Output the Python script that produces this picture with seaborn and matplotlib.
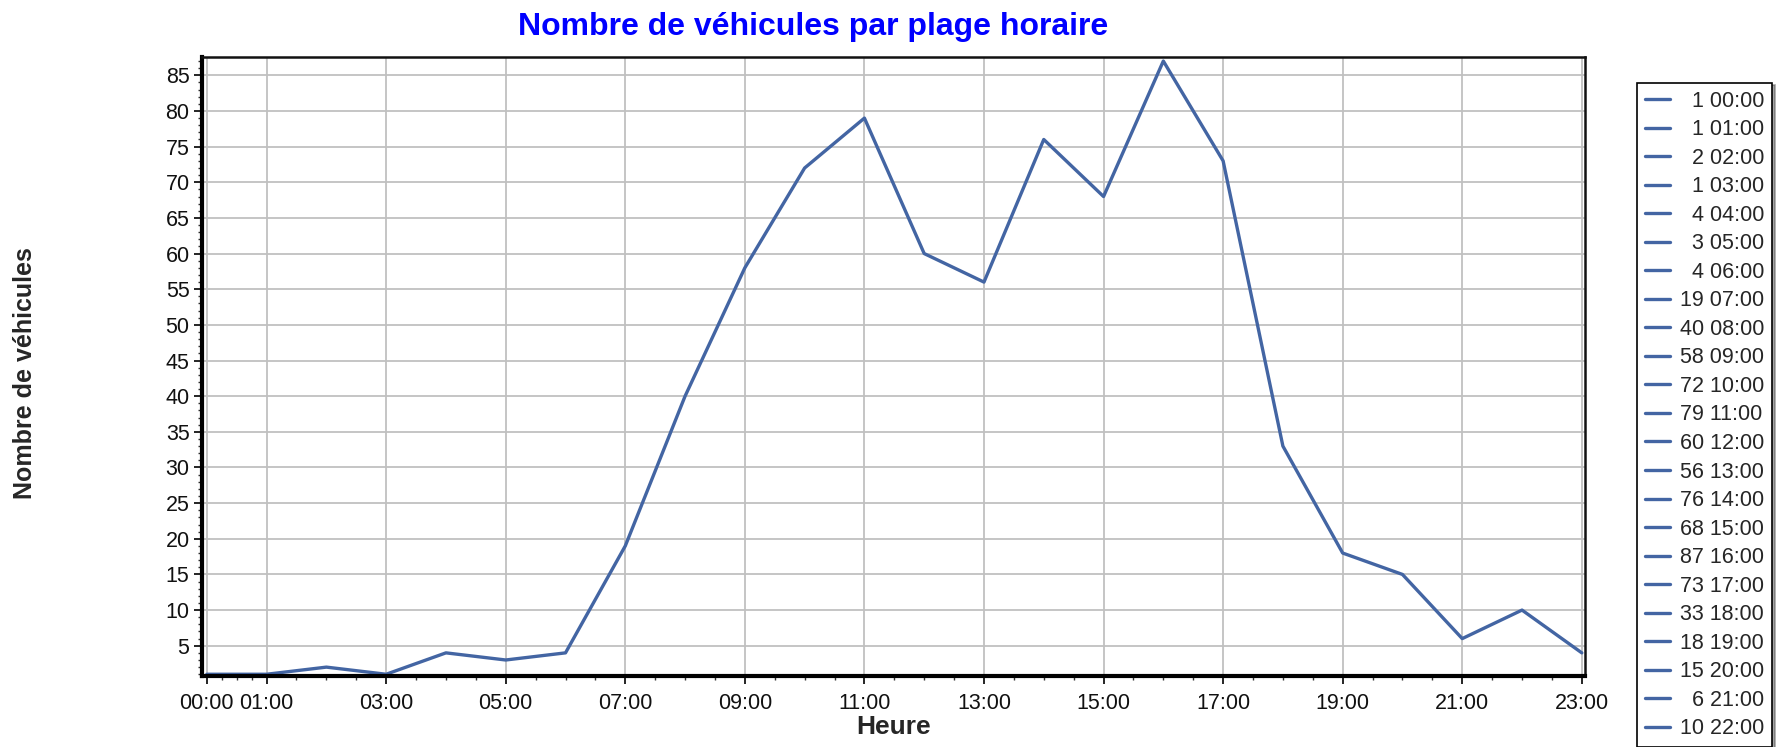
import pandas as pd
import matplotlib.pyplot as plt
import seaborn as sns
import numpy as np
from matplotlib.lines import Line2D
from matplotlib.ticker import MultipleLocator, FixedLocator

# Données : nombre de véhicules par heure
heures = list(range(24))
etiquettes = ["%02d:00" % h for h in heures]
vehicules = [1, 1, 2, 1, 4, 3, 4, 19, 40, 58, 72, 79, 60, 56, 76, 68, 87, 73, 33, 18, 15, 6, 10, 4]
ticks_x = [0, 1, 3, 5, 7, 9, 11, 13, 15, 17, 19, 21, 23]
ticks_y = list(range(5, 90, 5))

couleur = "#4365a3"

sns.set_theme(style="whitegrid")
plt.rcParams['font.family'] = ['Liberation Sans', 'DejaVu Sans']

df = pd.DataFrame({"heure": heures, "nb": vehicules})

fig = plt.figure(figsize=(17.8, 7.47), dpi=100)
ax = fig.add_axes([0.1135, 0.095, 0.777, 0.829])

sns.lineplot(data=df, x="heure", y="nb", ax=ax, color=couleur, linewidth=2.4)

ax.set_xlim(-0.08, 23.055)
ax.set_ylim(0.75, 87.6)
ax.xaxis.set_major_locator(FixedLocator(ticks_x))
ax.set_xticklabels([etiquettes[h] for h in ticks_x])
# petits tirets : quarts d'heure avant 01:00 puis demi-heures
ax.xaxis.set_minor_locator(FixedLocator([0.25, 0.5, 0.75] + list(np.arange(1.5, 23, 0.5))))
ax.yaxis.set_major_locator(FixedLocator(ticks_y))
ax.yaxis.set_minor_locator(MultipleLocator(1))

ax.grid(True, which="major", color="#c0c0c0", linewidth=1.3)
ax.grid(False, which="minor")
ax.tick_params(axis="both", which="major", direction="out", length=6, width=1.2,
               color="black", labelsize=15.5, labelcolor="#111111", bottom=True, left=True, pad=3)
ax.tick_params(axis="x", which="major", pad=6)
ax.tick_params(axis="both", which="minor", direction="out", length=3, width=1,
               color="#333333", bottom=True, left=True)

for s in ["left", "bottom"]:
    ax.spines[s].set_linewidth(3)
    ax.spines[s].set_color("black")
for s in ["top", "right"]:
    ax.spines[s].set_linewidth(1.8)
    ax.spines[s].set_color("#111111")

ax.set_xlabel("Heure", fontsize=19, fontweight="bold", labelpad=1)
ax.set_ylabel("Nombre de véhicules", fontsize=18, fontweight="bold")
ax.yaxis.set_label_coords(-0.119, 0.489)

fig.text(0.457, 0.964, "Nombre de véhicules par plage horaire", color="#0000ff",
         fontsize=23, fontweight="bold", ha="center", va="center")

# Légende : valeur + heure
handles = []
labels = []
for h, v in zip(heures[:-1], vehicules[:-1]):
    handles.append(Line2D([], [], color=couleur, linewidth=2.4))
    labels.append(("%d" % v).rjust(2, "\u2007") + " " + etiquettes[h])

leg = fig.legend(handles, labels, loc="upper left", bbox_to_anchor=(0.9197, 0.8893),
                 fontsize=15.5, frameon=True, fancybox=False, shadow=True,
                 edgecolor="black", handlelength=1.16, handletextpad=0.46,
                 labelspacing=0.35, borderpad=0.365, borderaxespad=0)
leg.get_frame().set_linewidth(1.2)

plt.savefig("out.png", dpi=100)
